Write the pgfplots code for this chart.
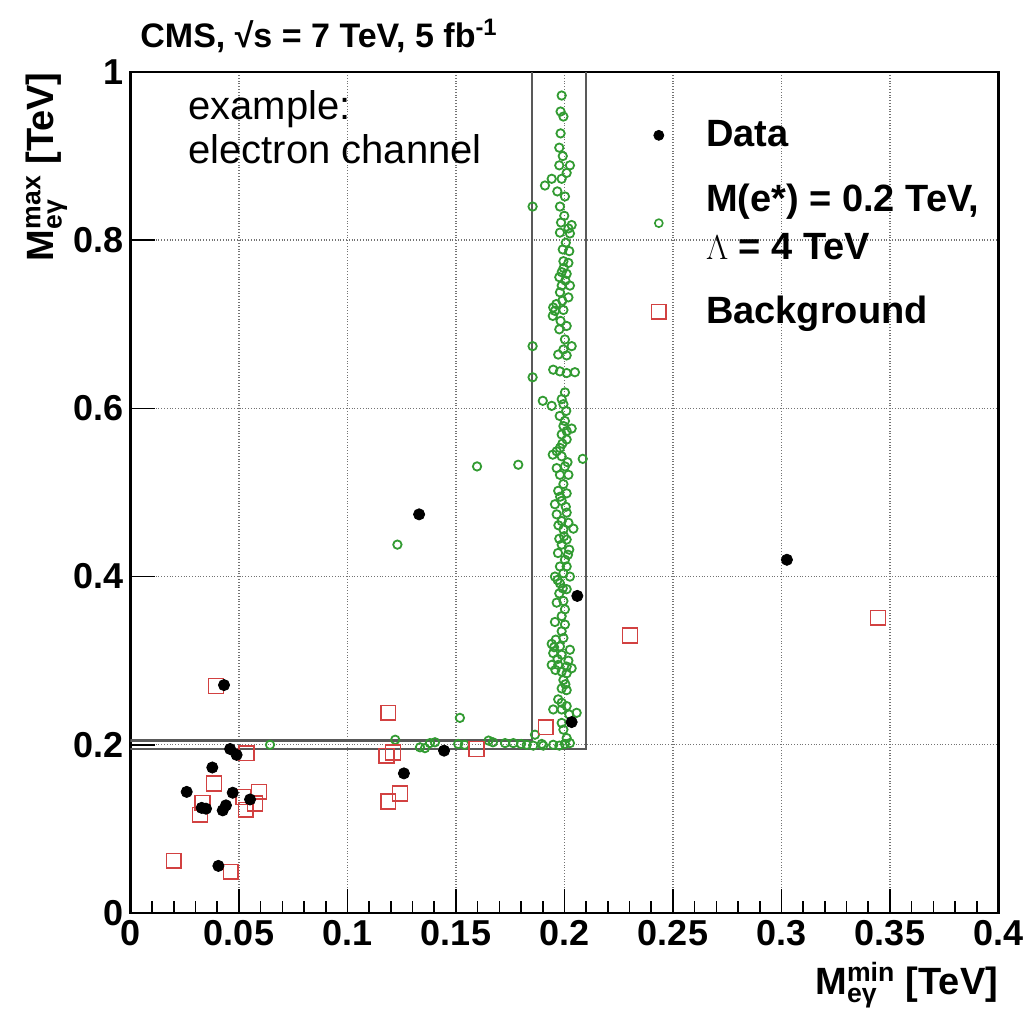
\documentclass[border=0pt]{standalone}
\usepackage{amsmath}
\usepackage{pgfplots}
\pgfplotsset{compat=1.18}
\usepackage{fontspec}
\setmainfont{Liberation Sans}
\definecolor{sig}{RGB}{50,155,50}
\definecolor{bkg}{RGB}{210,65,65}
\begin{document}
\begin{tikzpicture}
\path[use as bounding box] (-65.25pt,-48.5pt) rectangle (447.25pt,456.5pt);
\begin{axis}[
  at={(0pt,0pt)}, anchor=south west,
  width=434pt, height=420.5pt, scale only axis,
  xmin=0, xmax=0.4, ymin=0, ymax=1,
  xtick={0,0.05,0.1,0.15,0.2,0.25,0.3,0.35,0.4},
  xticklabels={0,0.05,0.1,0.15,0.2,0.25,0.3,0.35,0.4},
  ytick={0,0.2,0.4,0.6,0.8,1},
  yticklabels={0,0.2,0.4,0.6,0.8,1},
  minor x tick num=4,
  xtick pos=bottom, ytick pos=left,
  tick align=inside,
  major tick length=12pt, minor tick length=6pt,
  every tick/.style={black, line width=0.8pt},
  grid=major,
  major grid style={densely dotted, black!55, line width=0.7pt},
  axis line style={black, line width=1.1pt},
  tick label style={font=\bfseries\fontsize{18}{21}\selectfont},
  /pgf/number format/assume math mode=true,
  xlabel={M$^{\text{min}}_{\text{eγ}}$ [TeV]},
  ylabel={M$^{\text{max}}_{\text{eγ}}$ [TeV]},
  xlabel style={at={(axis description cs:1,-0.0583)}, anchor=north east, inner sep=0pt, font=\bfseries\fontsize{19}{22}\selectfont},
  ylabel style={at={(axis description cs:-0.0726,1)}, anchor=south east, inner sep=0pt, font=\bfseries\fontsize{19}{22}\selectfont},
  legend style={at={(axis description cs:0.593,0.952)}, anchor=north west, draw=none, fill=none,
    font=\bfseries\fontsize{19}{24}\selectfont, row sep=13pt, column sep=18pt,
    cells={anchor=west, align=left}},
]
\addlegendimage{only marks, mark=*, mark size=2.5pt, black}
\addlegendimage{only marks, mark=o, mark size=2pt, sig, line width=0.8pt}
\addlegendimage{only marks, mark=square, mark size=3.6pt, bkg, line width=0.8pt}
\addlegendentry{Data}
\addlegendentry{M(e*) = 0.2 TeV,\\$\Lambda$ = 4 TeV}
\addlegendentry{Background}

% selection cut lines
\addplot[forget plot, draw=black!65, line width=1.1pt] coordinates {(0,0.205)(0.185,0.205)(0.185,1)};
\addplot[forget plot, draw=black!65, line width=1.1pt] coordinates {(0,0.195)(0.21,0.195)(0.21,1)};

% signal
\addplot[forget plot, only marks, mark=o, mark size=2.1pt, sig, mark options={line width=0.9pt}] coordinates {
(0.0643,0.200)(0.122,0.206)(0.1334,0.197)(0.1357,0.196)(0.138,0.202)(0.1403,0.203)
(0.1518,0.232)(0.151,0.201)(0.154,0.200)(0.165,0.205)(0.167,0.203)(0.1726,0.202)
(0.1764,0.202)(0.180,0.201)(0.1826,0.200)(0.123,0.438)(0.1597,0.531)(0.1787,0.533)
(0.1987,0.972)(0.1982,0.953)(0.1995,0.947)(0.1982,0.927)(0.1976,0.910)(0.1992,0.900)(0.1976,0.889)
(0.2025,0.889)(0.2010,0.880)(0.1941,0.873)(0.1987,0.873)(0.1910,0.865)(0.1967,0.858)(0.2002,0.852)
(0.1853,0.840)(0.1979,0.840)(0.1999,0.829)
(0.2033,0.818)(0.2018,0.814)(0.1979,0.809)(0.2025,0.808)(0.1992,0.789)(0.2022,0.787)(0.1995,0.775)
(0.2018,0.773)(0.1987,0.762)(0.1976,0.756)(0.2010,0.760)(0.1987,0.746)(0.2025,0.746)(0.1979,0.738)
(0.2018,0.732)(0.1948,0.720)(0.1956,0.716)(0.1946,0.710)(0.1995,0.717)(0.1982,0.704)(0.2010,0.698)
(0.1976,0.694)(0.1853,0.674)(0.2002,0.682)(0.2033,0.674)(0.1995,0.670)(0.1971,0.664)(0.2010,0.663)
(0.1948,0.646)(0.1979,0.644)(0.2010,0.642)(0.2048,0.643)(0.1853,0.637)(0.2002,0.619)(0.1987,0.611)
(0.1900,0.609)(0.1941,0.603)(0.1995,0.605)(0.2002,0.585)(0.1995,0.579)(0.2033,0.576)(0.2010,0.573)
(0.1987,0.569)(0.2010,0.563)(0.1979,0.553)(0.1964,0.549)(0.1946,0.545)(0.1987,0.543)(0.2084,0.540)
(0.1964,0.529)(0.2002,0.531)(0.1979,0.521)(0.2018,0.521)(0.1995,0.510)
(0.1971,0.502)(0.2010,0.499)(0.1956,0.486)(0.1987,0.490)(0.2010,0.476)(0.1964,0.474)(0.1987,0.466)
(0.2018,0.464)(0.1995,0.456)(0.2041,0.457)(0.1976,0.445)(0.2010,0.444)(0.1987,0.438)(0.2022,0.432)
(0.2002,0.420)(0.2010,0.412)(0.1979,0.412)(0.1995,0.404)(0.2025,0.400)(0.1956,0.400)(0.1979,0.392)
(0.2010,0.385)(0.1976,0.380)(0.1995,0.371)(0.1964,0.369)(0.2002,0.361)(0.1987,0.353)
(0.1956,0.346)(0.2002,0.343)(0.1987,0.335)(0.1995,0.327)(0.1941,0.320)(0.1979,0.317)(0.2025,0.313)
(0.1948,0.309)(0.1987,0.307)(0.1941,0.295)(0.1971,0.295)(0.2010,0.293)(0.2033,0.291)(0.1987,0.287)
(0.2010,0.285)(0.1995,0.277)(0.1987,0.267)(0.2010,0.265)(0.1971,0.254)(0.1987,0.250)(0.2010,0.246)
(0.1948,0.242)(0.1987,0.242)(0.2056,0.238)(0.2022,0.236)(0.1987,0.226)(0.1995,0.218)(0.2010,0.208)
(0.1864,0.212)(0.1948,0.200)(0.1976,0.199)(0.2002,0.201)(0.2025,0.202)(0.1895,0.201)(0.1902,0.199)
(0.1856,0.199)
(0.1960,0.325)(0.1952,0.316)(0.1968,0.302)(0.2018,0.300)(0.1958,0.289)(0.2004,0.272)
(0.1992,0.386)(0.1968,0.396)(0.2016,0.426)(0.1970,0.428)(0.1998,0.448)(0.1972,0.461)
(0.2006,0.483)(0.1980,0.495)(0.2014,0.536)(0.1990,0.558)(0.1978,0.591)(0.2008,0.597)
(0.1962,0.724)(0.1990,0.728)(0.2004,0.752)(0.1996,0.767)(0.2006,0.797)(0.1984,0.821)
};

% background
\addplot[forget plot, only marks, mark=square, mark size=3.7pt, bkg, mark options={line width=0.8pt}] coordinates {
(0.0394,0.270)(0.1188,0.238)(0.0535,0.190)(0.118,0.187)(0.121,0.191)(0.1595,0.195)
(0.0385,0.154)(0.0592,0.144)(0.052,0.138)(0.0331,0.131)(0.1242,0.142)(0.1188,0.1325)
(0.0574,0.130)(0.0531,0.1226)(0.032,0.1167)(0.020,0.062)(0.0462,0.049)(0.1914,0.221)
(0.2302,0.330)(0.3445,0.351)
};

% data
\addplot[forget plot, only marks, mark=*, mark size=2.8pt, black] coordinates {
(0.0431,0.271)(0.133,0.474)(0.2059,0.377)(0.2033,0.227)(0.3025,0.420)(0.1445,0.193)
(0.126,0.166)(0.0459,0.195)(0.0489,0.188)(0.0377,0.173)(0.0259,0.144)(0.0471,0.143)
(0.0551,0.135)(0.0328,0.125)(0.0348,0.124)(0.0425,0.122)(0.044,0.128)(0.0405,0.056)
};

\node[anchor=base west, inner sep=0pt, font=\fontsize{20}{22}\selectfont]
  at (axis description cs:0.0662,0.943) {example:};
\node[anchor=base west, inner sep=0pt, font=\fontsize{20}{22}\selectfont]
  at (axis description cs:0.0662,0.891) {electron channel};
\end{axis}
\node[anchor=base west, inner sep=0pt, font=\bfseries\fontsize{17}{19}\selectfont]
  at (4.75pt,432.5pt) {CMS, √s = 7 TeV, 5 fb$^{\text{-1}}$};
\end{tikzpicture}
\end{document}
